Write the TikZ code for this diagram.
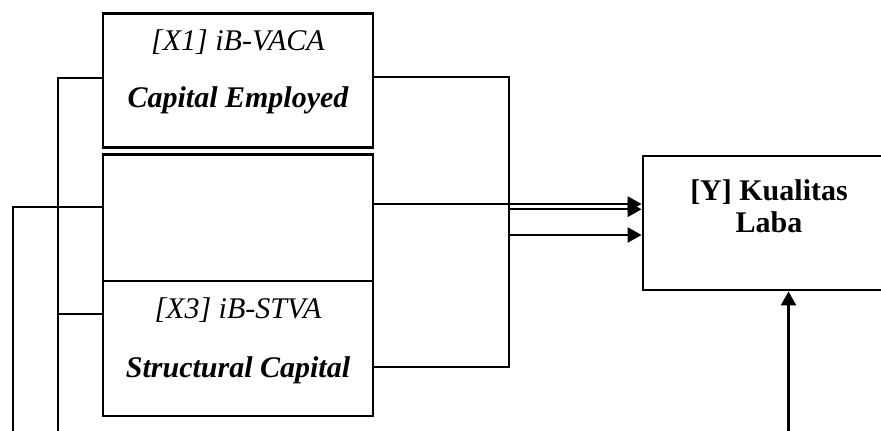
\documentclass[tikz,border=0pt]{standalone}
\usepackage{fontspec}
\setmainfont{Liberation Serif}
\usetikzlibrary{arrows.meta}
\begin{document}
\begin{tikzpicture}[x=1pt,y=-1pt,
  boxstyle/.style={draw,line width=2.8pt,minimum width=270pt,inner sep=0pt},
  txt/.style={anchor=base,inner sep=0pt,font=\fontsize{30}{36}\selectfont},
  wire/.style={line width=2.3pt},
  arr/.style={line width=2.3pt,-{Triangle[length=14pt,width=15pt]}}]
\useasboundingbox (0,0) rectangle (881,431);
\clip (0,0) rectangle (881,431);
% boxes
\node[boxstyle,minimum height=134pt] (x1) at (238,80.3) {};
\node[boxstyle,minimum height=126.7pt] (x2) at (238,217.7) {};
\node[boxstyle,minimum height=135pt] (x3) at (238,348.5) {};
\node[draw,line width=2.8pt,minimum width=252pt,minimum height=134pt,inner sep=0pt] (y) at (769,223) {};
% texts
\node[txt] (t1a) at (238,50) {\itshape [X1] iB-VACA};
\node[txt] (t1b) at (238,107) {\bfseries\itshape Capital Employed};
\node[txt] (t3a) at (238,318) {\itshape [X3] iB-STVA};
\node[txt] (t3b) at (238,377) {\bfseries\itshape Structural Capital};
\node[txt] (tya) at (769,200) {\bfseries [Y] Kualitas};
\node[txt] (tyb) at (769,232) {\bfseries Laba};
% helper coordinates
\coordinate (lb1) at (58,431);
\coordinate (lb2) at (13,431);
\coordinate (rj) at (509,77.3);
\coordinate (rb) at (509,366.7);
\coordinate (yb) at (788.5,431);
% left wiring
\draw[wire] (lb1) -- (58,77.7) -- (x1.west |- 0,77.7);
\draw[wire] (58,314) -- (x3.west |- 0,314);
\draw[wire] (lb2) -- (13,206.7) -- (x2.west |- 0,206.7);
% right wiring
\draw[wire] (x1.east |- 0,77.3) -- (rj) -- (rb) -- (x3.east |- rb);
\draw[arr] (x2.east |- 0,204) -- (y.west |- 0,204);
\draw[arr] (509,209.3) -- (y.west |- 0,209.3);
\draw[arr] (509,235) -- (y.west |- 0,235);
\draw[arr] (yb) -- (y.south -| yb);
\end{tikzpicture}
\end{document}
